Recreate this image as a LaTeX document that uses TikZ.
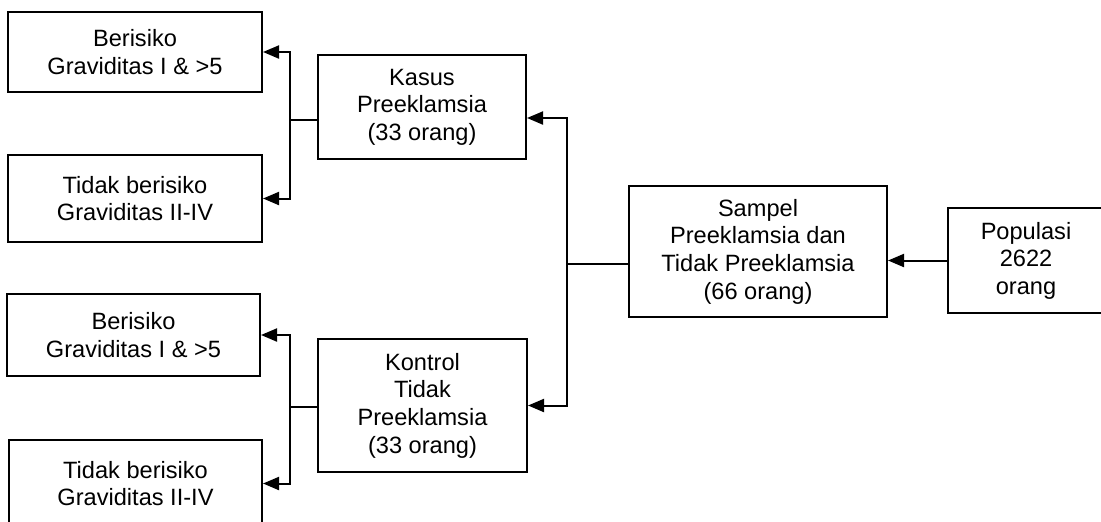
\documentclass[tikz,border=0pt]{standalone}
\usepackage{fontspec}
\setmainfont{Liberation Sans}
\usepackage{tikz}
\usetikzlibrary{arrows.meta}

\begin{document}
\begin{tikzpicture}[x=0.5pt, y=-0.5pt,
	box/.style={draw, line width=1pt, align=center, inner sep=0pt, font=\fontsize{11.8pt}{13.8pt}\selectfont},
	arr/.style={-{Triangle[length=8pt, width=6.5pt]}, line width=1pt}]
	\useasboundingbox (0,0) rectangle (1101,521);

	\node[box, minimum width=127pt, minimum height=40pt] (b1) at (135,52) {Berisiko\\Graviditas I \& >5};
	\node[box, minimum width=127pt, minimum height=43.5pt] (t1) at (135,198.5) {Tidak berisiko\\Graviditas II-IV};
	\node[box, minimum width=126.5pt, minimum height=41pt] (b2) at (133.5,335) {Berisiko\\Graviditas I \& >5};
	\node[box, minimum width=126.5pt, minimum height=43.5pt] (t2) at (135.5,483.5) {Tidak berisiko\\Graviditas II-IV};

	\node[box, minimum width=104pt, minimum height=52pt] (kasus) at (422,107) {Kasus\\Preeklamsia\\(33 orang)};
	\node[box, minimum width=104.5pt, minimum height=66.5pt] (kontrol) at (422.5,405.5) {Kontrol\\Tidak\\Preeklamsia\\(33 orang)};
	\node[box, minimum width=129pt, minimum height=65.5pt] (sampel) at (758,251.5) {Sampel\\Preeklamsia dan\\Tidak Preeklamsia\\(66 orang)};
	\node[box, minimum width=78pt, minimum height=52.5pt] (populasi) at (1026,260.5) {Populasi\\2622\\orang};

	\coordinate (jk) at (290,120);
	\coordinate (jl) at (290,407);
	\coordinate (js) at (567,264);

	\draw[line width=1pt] (kasus.west |- jk) -- (jk);
	\draw[arr] (jk) |- (b1.east);
	\draw[arr] (jk) |- (t1.east);

	\draw[line width=1pt] (kontrol.west |- jl) -- (jl);
	\draw[arr] (jl) |- (b2.east);
	\draw[arr] (jl) |- (t2.east);

	\draw[line width=1pt] (sampel.west |- js) -- (js);
	\draw[arr] (js) |- ([yshift=-5.5pt]kasus.east);
	\draw[arr] (js) |- (kontrol.east);

	\draw[arr] (populasi.west) -- (populasi.west -| sampel.east);
\end{tikzpicture}
\end{document}
